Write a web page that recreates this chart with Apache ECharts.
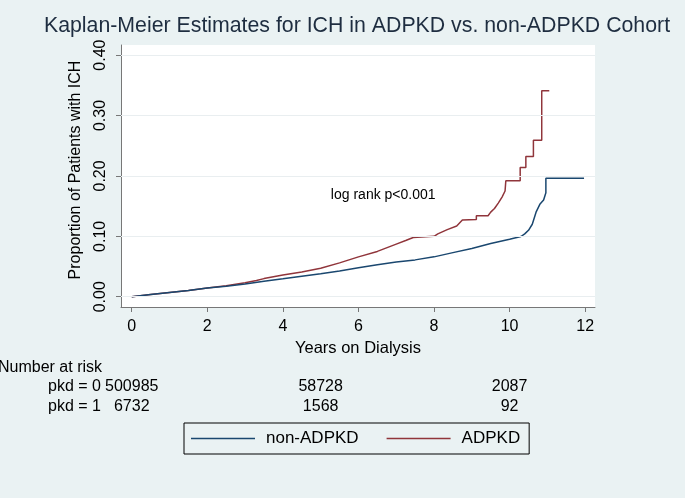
<!DOCTYPE html>
<html>
<head>
<meta charset="utf-8">
<script src="https://cdn.jsdelivr.net/npm/echarts@6/dist/echarts.min.js"></script>
<style>
  html, body { margin: 0; padding: 0; background: #eaf2f3; }
  #chart { width: 685px; height: 498px; }
</style>
</head>
<body>
<div id="chart"></div>
<script>
// KM curve for non-ADPKD (years on dialysis, cumulative proportion with ICH)
// a repeated time = a vertical step of the curve
const nonTimes = [0, 0.5, 1, 1.5, 2, 2.5, 3, 3.5, 4, 4.5, 5, 5.5, 6, 6.5, 7, 7.5, 8, 8.5, 9, 9.5, 10, 10.3, 10.4, 10.5, 10.6, 10.7, 10.8, 10.9, 10.96, 10.96, 11.97];
const nonValues = [0, 0.0035, 0.007, 0.0105, 0.0143, 0.0175, 0.021, 0.0255, 0.0297, 0.034, 0.038, 0.0425, 0.048, 0.053, 0.0575, 0.061, 0.066, 0.073, 0.080, 0.088, 0.095, 0.0997, 0.104, 0.110, 0.120, 0.140, 0.153, 0.160, 0.172, 0.196, 0.196];

// KM curve for ADPKD
const pkdTimes = [0, 0.5, 1, 1.5, 2, 2.5, 3, 3.3, 3.5, 4, 4.5, 5, 5.5, 5.75, 6, 6.5, 7, 7.25, 7.45, 8.0, 8.1, 8.35, 8.6, 8.75, 9.12, 9.12, 9.43, 9.5, 9.6, 9.7, 9.8, 9.88, 9.9, 10.28, 10.28, 10.43, 10.43, 10.63, 10.63, 10.85, 10.85, 11.05];
const pkdValues = [0, 0.0035, 0.007, 0.0105, 0.0143, 0.018, 0.023, 0.027, 0.030, 0.036, 0.041, 0.047, 0.056, 0.061, 0.066, 0.075, 0.087, 0.093, 0.098, 0.100, 0.104, 0.111, 0.117, 0.127, 0.128, 0.134, 0.134, 0.140, 0.146, 0.155, 0.165, 0.175, 0.192, 0.192, 0.214, 0.214, 0.232, 0.232, 0.259, 0.259, 0.341, 0.341];

const xTicks = [0, 2, 4, 6, 8, 10, 12];
const yTicks = [0, 0.1, 0.2, 0.3, 0.4];

// number at risk table
const riskTimes = [0, 5, 10];
const riskNon = [500985, 58728, 2087];
const riskPkd = [6732, 1568, 92];
const riskRowLabels = ["pkd = 0", "pkd = 1"];

const pvalueText = "log rank p<0.001";
const pvalueAt = [5.27, 0.168];

const FONT = "Liberation Sans, Arial, sans-serif";
const axisColor = "#777";

var myChart = echarts.init(document.getElementById("chart"));

option = {
  backgroundColor: "#eaf2f3",
  animation: false,
  title: {
    text: "Kaplan-Meier Estimates for ICH in ADPKD vs. non-ADPKD Cohort",
    left: 352,
    top: 11,
    textAlign: "center",
    textStyle: { fontFamily: FONT, fontSize: 21.3, fontWeight: "normal", color: "#1e2d40" },
  },
  legend: {
    data: ["non-ADPKD", "ADPKD"],
    left: 184,
    top: 423,
    orient: "horizontal",
    icon: "rect",
    itemWidth: 64,
    itemHeight: 1.3,
    itemGap: 28,
    padding: [7, 9, 7, 7],
    borderColor: "#000",
    borderWidth: 1,
    textStyle: { fontFamily: FONT, fontSize: 17, color: "#000", padding: [0, 0, 0, 6] },
  },
  grid: {
    left: 121,
    right: 90,
    top: 45,
    bottom: 191,
    show: true,
    backgroundColor: "#fff",
    borderWidth: 0,
  },
  xAxis: {
    type: "value",
    min: -0.284,
    max: 12.26,
    name: "Years on Dialysis",
    nameLocation: "middle",
    nameGap: 30,
    nameTextStyle: { fontFamily: FONT, fontSize: 16.5, color: "#000" },
    axisLine: { show: true, onZero: false, lineStyle: { color: axisColor } },
    axisTick: { show: true, customValues: xTicks, length: 5, lineStyle: { color: axisColor } },
    axisLabel: { customValues: xTicks, margin: 12, fontFamily: FONT, fontSize: 16, color: "#000" },
    splitLine: { show: false },
  },
  yAxis: {
    type: "value",
    min: -0.017,
    max: 0.4167,
    name: "Proportion of Patients with ICH",
    nameLocation: "middle",
    nameGap: 37,
    nameTextStyle: { fontFamily: FONT, fontSize: 16, color: "#000", padding: [0, 0, 0, 12] },
    axisLine: { show: true, onZero: false, lineStyle: { color: axisColor } },
    axisTick: { show: true, customValues: yTicks, length: 5, lineStyle: { color: axisColor } },
    axisLabel: {
      customValues: yTicks,
      rotate: 90,
      margin: 12,
      fontFamily: FONT,
      fontSize: 16,
      color: "#000",
      formatter: (v) => v.toFixed(2),
    },
    splitLine: { show: false },
  },
  series: [
    {
      name: "grid",
      type: "line",
      data: [],
      z: 1,
      markLine: {
        silent: true,
        symbol: "none",
        label: { show: false },
        lineStyle: { color: "#e9eef0", type: "solid", width: 1 },
        data: yTicks.map((v) => ({ yAxis: v })),
      },
    },
    {
      name: "non-ADPKD",
      type: "line",
      showSymbol: false,
      symbol: "none",
      z: 3,
      color: "#1a476f",
      lineStyle: { width: 1.5, color: "#1a476f" },
      data: nonTimes.map((t, i) => [t, nonValues[i]]),
    },
    {
      name: "ADPKD",
      type: "line",
      showSymbol: false,
      symbol: "none",
      z: 2,
      color: "#90353b",
      lineStyle: { width: 1.5, color: "#90353b" },
      data: pkdTimes.map((t, i) => [t, pkdValues[i]]),
    },
  ],
};
myChart.setOption(option);

// texts placed with the chart's own scale
const px = (t) => myChart.convertToPixel({ xAxisIndex: 0 }, t);
const py = (v) => myChart.convertToPixel({ yAxisIndex: 0 }, v);
const txt = (x, y, s, align, size) => ({
  type: "text",
  x: x,
  y: y,
  style: { text: s, fill: "#000", font: size + "px " + FONT, textAlign: align, textVerticalAlign: "middle" },
});

const g = [];
g.push(txt(px(pvalueAt[0]), py(pvalueAt[1]), pvalueText, "left", 14));
g.push(txt(-2, 368, "Number at risk", "left", 16));
g.push(txt(48, 387, riskRowLabels[0], "left", 16));
g.push(txt(48, 406.5, riskRowLabels[1], "left", 16));
riskTimes.forEach((t, i) => {
  g.push(txt(px(t), 387, String(riskNon[i]), "center", 16));
  g.push(txt(px(t), 406.5, String(riskPkd[i]), "center", 16));
});
myChart.setOption({ graphic: g });
</script>
</body>
</html>
